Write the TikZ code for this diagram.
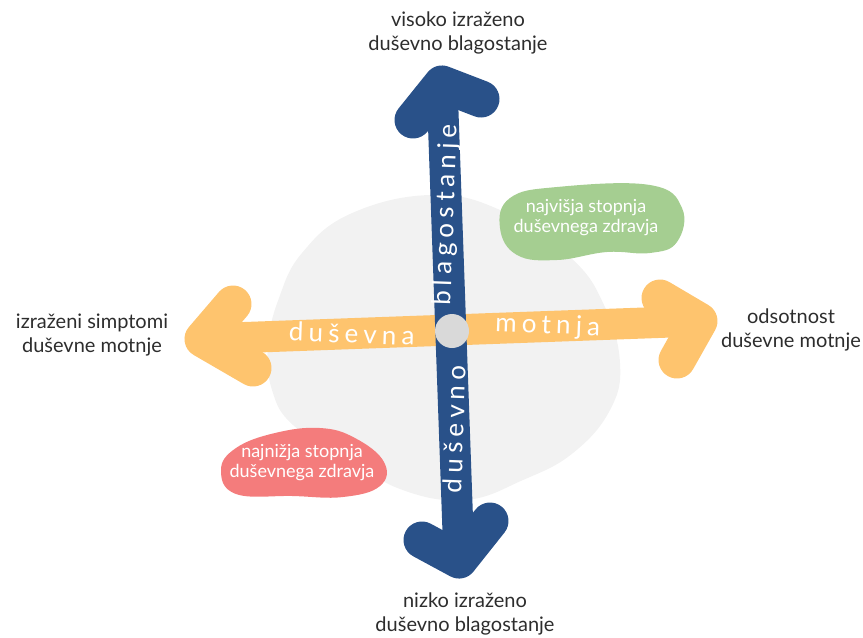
\documentclass[tikz,border=0pt]{standalone}
\usepackage{fontspec}
\setmainfont{Lato}
\newfontfamily\spacedfont[LetterSpace=20]{Lato}

\definecolor{wellblue}{RGB}{41,81,137}
\definecolor{motorange}{RGB}{254,196,110}
\definecolor{blobgray}{RGB}{242,242,242}
\definecolor{dotgray}{RGB}{217,217,217}
\definecolor{highgreen}{RGB}{165,206,145}
\definecolor{lowred}{RGB}{244,124,124}
\definecolor{labelgray}{RGB}{45,45,45}

\tikzset{every picture/.style={line width=0.75pt}}
\tikzset{
	shaft/.style={line width=23.25pt},
	head/.style={line width=27.75pt, line cap=round, line join=round},
	axislabel/.style={font=\fontsize{15}{17.5}\selectfont, text=labelgray, align=center},
	blobtext/.style={font=\fontsize{13.5}{15}\selectfont, text=white, align=center},
	arrowtext/.style={font=\spacedfont\fontsize{19.5}{22}\selectfont, text=white, sloped, inner sep=0pt}}

\begin{document}
\begin{tikzpicture}[x=0.75pt,y=0.75pt,yscale=-1,xscale=1]
	\useasboundingbox (0,0) rectangle (863,637);

	%Shape: Blob [id:gray]
	\fill [blobgray] plot [smooth cycle, tension=0.7] coordinates {(268,345) (279,298) (302,253) (350,214) (430,195) (500,210) (570,257) (604,305) (620,363) (610,410) (573,453) (523,480) (465,500) (400,489) (343,455) (293,425) (272,390)};
	%Shape: Blob [id:green]
	\fill [highgreen] plot [smooth cycle, tension=0.7] coordinates {(500,228) (510,198) (557,187) (650,185) (682,208) (677,242) (650,253) (607,252) (557,260) (517,255)};
	%Shape: Blob [id:red]
	\fill [lowred] plot [smooth cycle, tension=0.7] coordinates {(221,470) (236,448) (275,433) (320,428) (355,438) (384,462) (380,486) (343,497) (293,496) (236,494)};

	% arrow ends
	\coordinate (leftTip) at (203,339);
	\coordinate (rightTip) at (699,321);
	\coordinate (upTip) at (442,84);
	\coordinate (downTip) at (459,560);

	%Right Arrow [id:motnja]
	\draw [shaft, motorange] (leftTip) -- (rightTip);
	\draw [head, motorange] (233,304) -- (leftTip) -- (253,368);
	\draw [head, motorange] (660,298) -- (rightTip) -- (677,360);
	\path (leftTip) -- (rightTip) node (dusevnaTxt) [arrowtext, pos=0.3] {duševna} node (motnjaTxt) [arrowtext, pos=0.695] {motnja};

	%Up Arrow [id:blagostanje]
	\draw [shaft, wellblue] (downTip) -- (upTip);
	\draw [head, wellblue] (413,120) -- (upTip) -- (481,99);
	\draw [head, wellblue] (422,540) -- (downTip) -- (490,521);
	\path (downTip) -- (upTip) node (dusevnoTxt) [arrowtext, pos=0.275] {duševno} node (blagoTxt) [arrowtext, pos=0.725] {blagostanje};

	%Shape: Ellipse [id:center]
	\node (center) [circle, fill=dotgray, minimum size=25.5pt, inner sep=0pt] at (452,331) {};

	% Text Node
	\node (topLbl) [axislabel] at (458,33) {visoko izraženo\\duševno blagostanje};
	% Text Node
	\node (bottomLbl) [axislabel] at (465,614) {nizko izraženo\\duševno blagostanje};
	% Text Node
	\node (leftLbl) [axislabel] at (92,335) {izraženi simptomi\\duševne motnje};
	% Text Node
	\node (rightLbl) [axislabel] at (791,330) {odsotnost\\duševne motnje};
	% Text Node
	\node (highTxt) [blobtext] at (586,218) {najvišja stopnja\\duševnega zdravja};
	% Text Node
	\node (lowTxt) [blobtext] at (302,463) {najnižja stopnja\\duševnega zdravja};

\end{tikzpicture}
\end{document}
